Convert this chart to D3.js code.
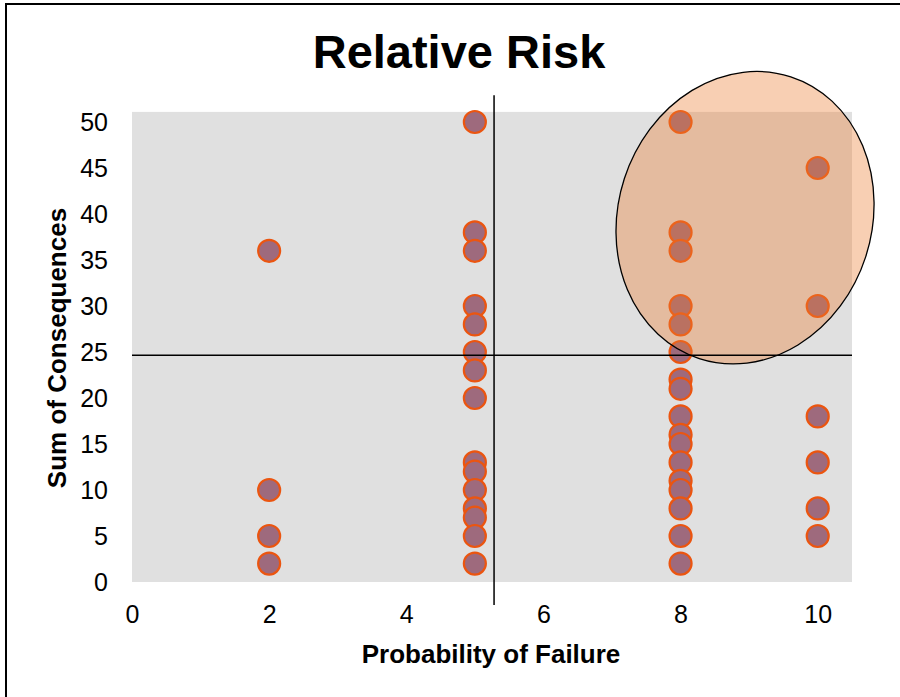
<!DOCTYPE html>
<html>
<head>
<meta charset="utf-8">
<script src="https://cdn.jsdelivr.net/npm/d3@7"></script>
<style>
  body { margin: 0; background: #fff; }
  svg text { font-family: Arial, "Liberation Sans", sans-serif; fill: #000; }
</style>
</head>
<body>
<svg width="900" height="697"></svg>
<script>
let svg = d3.select("svg"),
    width = +svg.attr("width"),
    height = +svg.attr("height");

// Probability of failure (x) and sum of consequences (y), one entry per item
let probability = [
    2, 2, 2, 2,
    5, 5, 5, 5, 5, 5, 5, 5, 5, 5, 5, 5, 5, 5, 5,
    8, 8, 8, 8, 8, 8, 8, 8, 8, 8, 8, 8, 8, 8, 8, 8, 8,
    10, 10, 10, 10, 10, 10
];
let consequences = [
    36, 10, 5, 2,
    50, 38, 36, 30, 28, 25, 23, 20, 13, 12, 10, 8, 7, 5, 2,
    50, 38, 36, 30, 28, 25, 22, 21, 18, 16, 15, 13, 11, 10, 8, 5, 2,
    45, 30, 18, 13, 8, 5
];
let xTicks = [0, 2, 4, 6, 8, 10];
let yTicks = [0, 5, 10, 15, 20, 25, 30, 35, 40, 45, 50];

// quadrant dividers (data units)
let splitX = 5.28;
let splitY = 24.64;

// highlight ellipse (data units)
let highRisk = {cx: 8.94, cy: 39.6, rx: 1.85, ry: 16.1, angle: 18};

let pointFill = "#9e6a7d";
let pointStroke = "#eb5510";
let plotGrey = "#e0e0e0";

let points = probability.map((p, i) => ({x: p, y: consequences[i]}));

let x = d3.scaleLinear().domain([0, 10.5]).range([132, 852]);
let y = d3.scaleLinear().domain([0, 50]).range([582, 122]);

//Chart border (right/bottom edges run off the picture)
svg.append("rect")
    .attr("x", 6).attr("y", 4)
    .attr("width", width).attr("height", height)
    .attr("fill", "none")
    .attr("stroke", "#000")
    .attr("stroke-width", 2);

//Plot area
svg.append("rect")
    .attr("x", x(0)).attr("y", y(51.1))
    .attr("width", x(10.5) - x(0))
    .attr("height", y(0) - y(51.1))
    .attr("fill", plotGrey);

svg.append("text")
    .attr("x", 459).attr("y", 68)
    .attr("text-anchor", "middle")
    .style("font-size", "47px")
    .style("font-weight", "bold")
    .text("Relative Risk");

//Axes, no lines, only labels
let xAxis = svg.append("g")
    .attr("transform", "translate(0," + y(0) + ")")
    .call(d3.axisBottom(x).tickValues(xTicks).tickSize(0).tickPadding(0));
xAxis.select(".domain").remove();
xAxis.selectAll("text")
    .attr("y", 41)
    .attr("dy", 0)
    .style("font-size", "25px")
    .style("font-family", "Arial, 'Liberation Sans', sans-serif");

let yAxis = svg.append("g")
    .attr("transform", "translate(" + x(0) + ",0)")
    .call(d3.axisLeft(y).tickValues(yTicks).tickSize(0).tickPadding(24));
yAxis.select(".domain").remove();
yAxis.selectAll("text")
    .attr("dy", "0.35em")
    .style("font-size", "25px")
    .style("font-family", "Arial, 'Liberation Sans', sans-serif");

svg.append("text")
    .attr("x", 491).attr("y", 663)
    .attr("text-anchor", "middle")
    .style("font-size", "26px")
    .style("font-weight", "bold")
    .text("Probability of Failure");

svg.append("text")
    .attr("transform", "translate(66," + 348 + ") rotate(-90)")
    .attr("text-anchor", "middle")
    .style("font-size", "26px")
    .style("font-weight", "bold")
    .text("Sum of Consequences");

//Points
svg.append("g")
    .attr("class", "points")
    .selectAll("circle")
    .data(points).enter().append("circle")
        .attr("cx", d => x(d.x))
        .attr("cy", d => y(d.y))
        .attr("r", 11)
        .attr("fill", pointFill)
        .attr("stroke", pointStroke)
        .attr("stroke-width", 2.2);

//High risk ellipse
svg.append("ellipse")
    .attr("transform", "translate(" + x(highRisk.cx) + "," + y(highRisk.cy) + ") rotate(" + highRisk.angle + ")")
    .attr("rx", x(highRisk.rx) - x(0))
    .attr("ry", y(0) - y(highRisk.ry))
    .attr("fill", "#ed7d31")
    .attr("fill-opacity", 0.37)
    .attr("stroke", "#000")
    .attr("stroke-width", 1.3);

//Quadrant lines
svg.append("line")
    .attr("x1", x(splitX)).attr("x2", x(splitX))
    .attr("y1", y(52.9)).attr("y2", y(-2.5))
    .attr("stroke", "#000").attr("stroke-width", 1.5);
svg.append("line")
    .attr("x1", x(0)).attr("x2", x(10.5))
    .attr("y1", y(splitY)).attr("y2", y(splitY))
    .attr("stroke", "#000").attr("stroke-width", 1.5);
</script>
</body>
</html>
